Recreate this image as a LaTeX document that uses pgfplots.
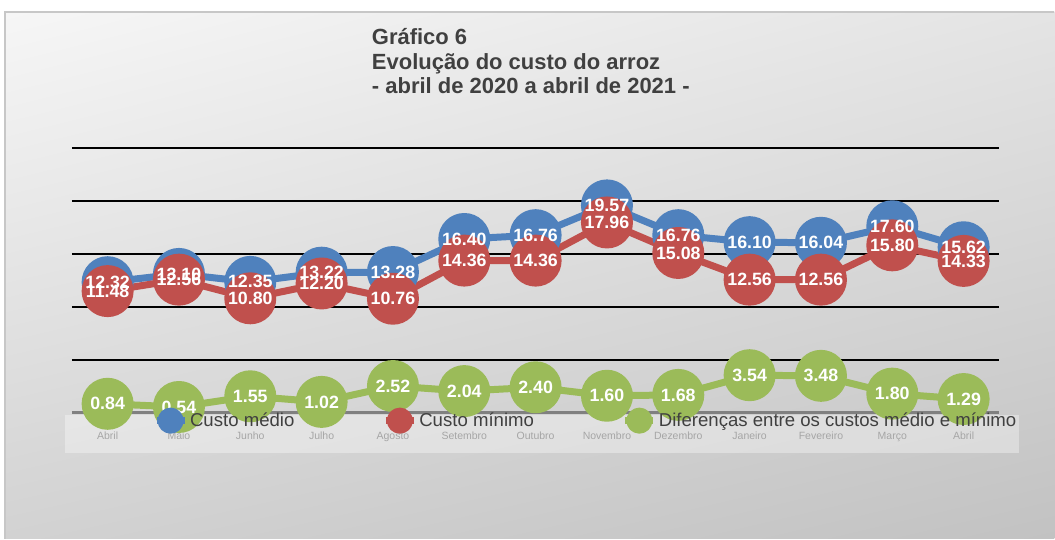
\documentclass[border=0pt]{standalone}
\usepackage{fontspec}
\setmainfont{Liberation Sans}
\usepackage{pgfplots}
\usepackage{pgfplotstable}
\pgfplotsset{compat=1.18}
\usetikzlibrary{shadings}
\definecolor{serieA}{HTML}{4F81BD}
\definecolor{serieB}{HTML}{C0504D}
\definecolor{serieC}{HTML}{9BBB59}
\definecolor{texto}{HTML}{404040}
\definecolor{eixo}{HTML}{808080}
\definecolor{rotulo}{HTML}{767676}
\definecolor{fundoA}{HTML}{F6F6F6}
\definecolor{fundoB}{HTML}{E4E4E4}
\definecolor{fundoC}{HTML}{D2D2D2}
\definecolor{fundoD}{HTML}{C2C2C2}

% custo medio, custo minimo e diferenca, abril/2020 a abril/2021
\pgfplotstableread{
x medio minimo dif
0 12.32 11.48 0.84
1 13.10 12.56 0.54
2 12.35 10.80 1.55
3 13.22 12.20 1.02
4 13.28 10.76 2.52
5 16.40 14.36 2.04
6 16.76 14.36 2.40
7 19.57 17.96 1.60
8 16.76 15.08 1.68
9 16.10 12.56 3.54
10 16.04 12.56 3.48
11 17.60 15.80 1.80
12 15.62 14.33 1.29
}\custo

\pgfplotsset{
  serie/.style={#1, line width=7pt, line join=round, mark=*, mark size=22.5pt,
    mark options={draw=none, fill=#1}},
  rotulos/.style={forget plot, draw=none, mark=none,
    nodes near coords, nodes near coords align=center,
    point meta=y,
    /pgf/number format/fixed, /pgf/number format/fixed zerofill,
    /pgf/number format/precision=2, /pgf/number format/assume math mode=true,
    every node near coord/.append style={anchor=center, text=white,
      font=\bfseries\fontsize{17.8}{18}\selectfont}},
  legenda/.style={legend image code/.code={
    \draw[#1, line width=7pt] (0pt,0pt) -- (28pt,0pt);
    \fill[#1] (14pt,0pt) circle (9.5pt);}},
}

\begin{document}
\begin{tikzpicture}
\fill[white] (0,0) rectangle (1055pt,539pt);
\shade[upper left=fundoA, upper right=fundoB, lower left=fundoC, lower right=fundoD]
  (5pt,0pt) rectangle (1055pt,527pt);
\draw[black!22, line width=1.5pt] (5pt,0pt) -- (5pt,527pt) -- (1055pt,527pt);

\begin{axis}[
    at={(72pt,126pt)}, anchor=south west,
    scale only axis, width=928pt, height=265pt,
    xmin=-0.5, xmax=12.5, ymin=0, ymax=25,
    clip=false,
    axis x line*=bottom, axis y line*=left,
    x axis line style={eixo, line width=3.5pt},
    y axis line style={draw=none},
    major tick length=0pt,
    ytick={5,10,...,25}, yticklabels={},
    ymajorgrids, major grid style={black, line width=1.6pt},
    xtick={0,...,12},
    xticklabels={Abril,Maio,Junho,Julho,Agosto,Setembro,Outubro,Novembro,
      Dezembro,Janeiro,Fevereiro,Março,Abril},
    xticklabel style={font=\fontsize{10.5}{12}\selectfont, text=rotulo, yshift=-16pt},
    legend columns=3,
    legend style={draw=none, fill=none, at={(0.0873,-0.030)}, anchor=west,
      inner sep=0pt, font=\fontsize{18.6}{20}\selectfont, text=texto,
      /tikz/every even column/.append style={column sep=86pt}},
    legend cell align=left,
  ]
  \addplot[serie=serieA, legenda=serieA] table[x=x, y=medio] {\custo};
  \addlegendentry{Custo médio}
  \addplot[serie=serieB, legenda=serieB] table[x=x, y=minimo] {\custo};
  \addlegendentry{Custo mínimo}
  \addplot[serie=serieC, legenda=serieC] table[x=x, y=dif] {\custo};
  \addlegendentry{Diferenças entre os custos médio e mínimo}

  \addplot[rotulos] table[x=x, y=medio] {\custo};
  \addplot[rotulos] table[x=x, y=minimo] {\custo};
  \addplot[rotulos] table[x=x, y=dif] {\custo};

  \fill[white, opacity=0.35] (axis cs:-0.598,-0.17) rectangle (axis cs:12.78,-3.77);
\end{axis}

\begin{scope}[every node/.style={anchor=base west, inner sep=0pt, text=texto,
    font=\bfseries\fontsize{22}{25}\selectfont}]
  \node at (372pt,494pt) {Gráfico 6};
  \node at (372pt,469.5pt) {Evolução do custo do arroz};
  \node at (372pt,445pt) {- abril de 2020 a abril de 2021 -};
\end{scope}
\end{tikzpicture}
\end{document}
